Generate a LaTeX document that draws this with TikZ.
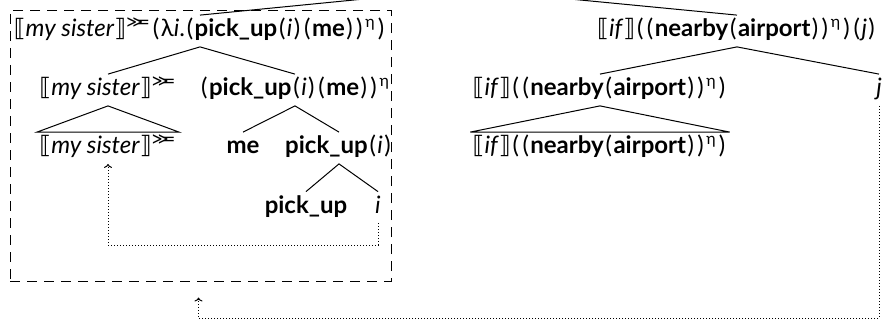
\documentclass[tikz,border=0pt]{standalone}
\usepackage{fontspec}
\setmainfont{Lato}
\newfontfamily\dv{DejaVu Sans}
\usetikzlibrary{arrows.meta}
\newcommand\lsem{{\dv ⟦}}
\newcommand\rsem{{\dv ⟧}}
\newcommand\bnd{\textsuperscript{\dv ≫\kern-.4em=}}
\newcommand\et{\textsuperscript{\kern.05em η\kern.05em}}
\newcommand\po{\kern.08em(\kern.06em}
\newcommand\pc{\kern.06em)\kern.08em}
\begin{document}
\begin{tikzpicture}[x=0.5pt,y=-0.5pt,
  lbl/.style={anchor=base, inner xsep=1pt, inner ysep=0pt, text height=10.5pt, text depth=5pt, font=\fontsize{12}{14}\selectfont},
  branch/.style={line width=0.5pt},
  xref/.style={line width=0.5pt, dash pattern=on 0.5pt off 1pt, -{To[length=2pt,width=4pt]}},
  boxline/.style={draw, line width=0.5pt, dash pattern=on 5pt off 3.5pt}]
\useasboundingbox (0,0) rectangle (885,321);
\clip (0,0) rectangle (885,321);
\node[lbl] (A) at (200,36.5) {\lsem\textit{my sister}\rsem\bnd\po λ\textit{i}.\po\textbf{pick\_up}\po\textit{i}\pc\po\textbf{me}\pc\pc\et\pc};
\node[lbl] (R) at (737,36.5) {\lsem\textit{if}\rsem\po\po\textbf{nearby}\po\textbf{airport}\pc\pc\et\pc\po\textit{j}\pc};
\node[lbl] (B) at (108,95.5) {\lsem\textit{my sister}\rsem\bnd};
\node[lbl] (C) at (295,95.5) {\po\textbf{pick\_up}\po\textit{i}\pc\po\textbf{me}\pc\pc\et};
\node[lbl] (S) at (600,95.5) {\lsem\textit{if}\rsem\po\po\textbf{nearby}\po\textbf{airport}\pc\pc\et\pc};
\node[lbl] (J) at (879,95.5) {\textit{j}};
\node[lbl] (D) at (108,153.5) {\lsem\textit{my sister}\rsem\bnd};
\node[lbl] (E) at (243,153.5) {\textbf{me}};
\node[lbl] (F) at (339,153.5) {\textbf{pick\_up}\po\textit{i}\pc};
\node[lbl] (T) at (600,153.5) {\lsem\textit{if}\rsem\po\po\textbf{nearby}\po\textbf{airport}\pc\pc\et\pc};
\node[lbl] (G) at (306,213) {\textbf{pick\_up}};
\node[lbl] (H) at (378,213) {\textit{i}};
\node[boxline, minimum width=190.5pt, minimum height=135.5pt, inner sep=0pt] (box) at (200.5,145.5) {};
\coordinate (top) at (466,-11);
\draw[branch] (top) -- (A.north) (top) -- (R.north);
\draw[branch] (B.north) -- (A.south) -- (C.north);
\draw[branch] (S.north) -- (R.south) -- (J.north);
\draw[branch] (E.north) -- (C.south) -- (F.north);
\draw[branch] (G.north) -- (F.south) -- (H.north);
\draw[branch] (B.south) -- (D.north west) -- (D.north east) -- cycle;
\draw[branch] (S.south) -- (T.north west) -- (T.north east) -- cycle;
\coordinate (lowA) at (0,245);
\coordinate (lowB) at (0,318);
\coordinate (tip) at ([xshift=-1pt,yshift=-8pt]box.south);
\draw[xref] (H.south) -- (H.south |- lowA) -| (D.south);
\draw[xref] (J.south) -- (J.south |- lowB) -| (tip);
\end{tikzpicture}
\end{document}
